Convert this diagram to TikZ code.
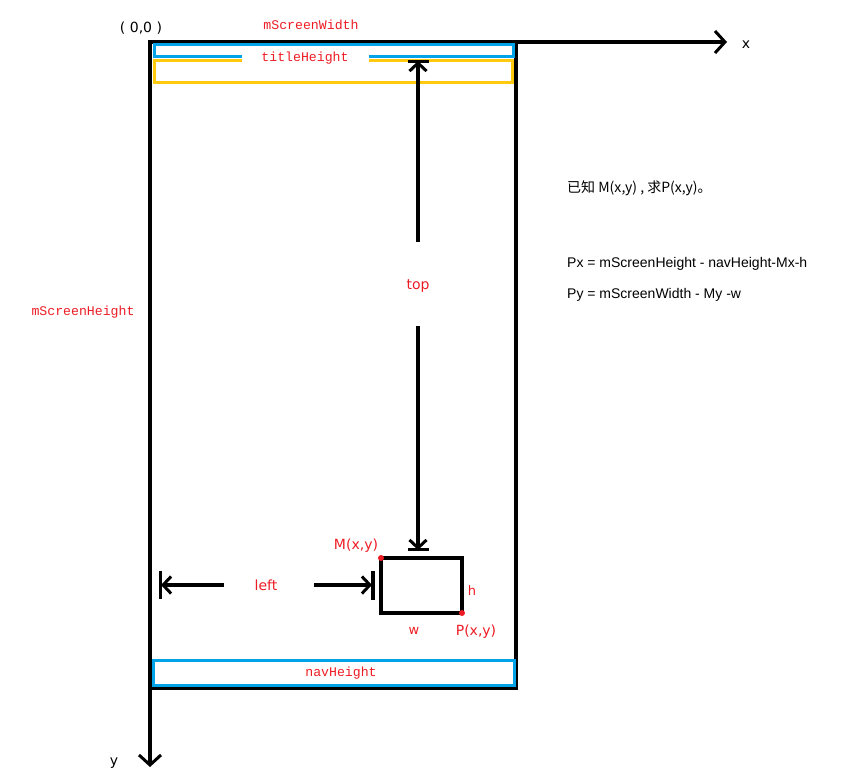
\documentclass[tikz,border=0pt]{standalone}
\usepackage{fontspec}
\setmainfont{Liberation Sans}
\setmonofont{Liberation Mono}
\newfontfamily\cjk{Noto Sans CJK SC}
\newfontfamily\dvs{DejaVu Sans}
\usetikzlibrary{arrows.meta}
\definecolor{pblue}{RGB}{0,162,232}
\definecolor{pyellow}{RGB}{255,201,14}
\definecolor{pred}{RGB}{237,28,36}
\tikzset{
  blk/.style={line width=3.2pt, black},
  axis/.style={blk, -{Straight Barb[length=10pt,width=22pt,line width=3pt]}},
  dim/.style={blk, -{Straight Barb[length=8pt,width=17pt,line width=3pt]}},
  mono/.style={font=\ttfamily\fontsize{13.2}{15}\selectfont, text=pred, inner sep=1pt},
  lbl/.style={font=\dvs\fontsize{14}{16}\selectfont, text=pred, inner sep=1pt},
  plain/.style={font=\fontsize{14}{16}\selectfont, text=black, inner sep=1pt, anchor=west},
  dot/.style={circle, fill=pred, inner sep=0pt, minimum size=6pt}
}
\begin{document}
\begin{tikzpicture}[x=1pt,y=-1pt]
\useasboundingbox (0,0) rectangle (842,782);
% main frame
\coordinate (O) at (150,42);
\coordinate (TR) at (516,42);
\coordinate (BR) at (516,688);
\coordinate (BL) at (150,688);
\coordinate (xend) at (727,42);
\coordinate (yend) at (150,767);
\draw[blk] (O) -- (TR) -- (BR) -- (BL) -- cycle;
\draw[axis] (O) -- (xend);
\draw[axis] (O) -- (yend);
% title bar (blue) with gap
\draw[pblue, line width=3pt] (242,56) -- (154,56) -- (154,44.5) -- (513,44.5) -- (513,56) -- (369,56);
% yellow box with gap
\draw[pyellow, line width=3pt] (242,60.5) -- (154.5,60.5) -- (154.5,82.5) -- (512.5,82.5) -- (512.5,60.5) -- (369,60.5);
\node[mono] (title) at (305,58) {titleHeight};
\node[mono] (sw) at (311,25) {mScreenWidth};
\node[mono] (sh) at (83,312) {mScreenHeight};
\node[font=\dvs\fontsize{14}{16}\selectfont, inner sep=1pt] (org) at (141,28) {( 0,0 )};
\node[font=\dvs\fontsize{14}{16}\selectfont, inner sep=1pt] (xl) at (746,45) {x};
\node[font=\dvs\fontsize{14}{16}\selectfont, inner sep=1pt] (yl) at (114,763) {y};
% nav bar
\draw[pblue, line width=3pt] (153,660.5) rectangle (514.5,685.5);
\node[mono] (nav) at (341,673) {navHeight};
% target box
\coordinate (M) at (381,558);
\coordinate (P) at (462,613);
\draw[blk] (M) rectangle (P);
\node[dot] (Md) at (M) {};
\node[dot] (Pd) at (P) {};
\node[lbl] (Ml) at (356,546) {M(x,y)};
\node[lbl] (Pl) at (476,632) {P(x,y)};
\node[lbl, font=\dvs\fontsize{13}{15}\selectfont] (hl) at (472,591) {h};
\node[lbl, font=\dvs\fontsize{13}{15}\selectfont] (wl) at (414,631) {w};
% top dimension
\coordinate (topA) at (418,242);
\coordinate (topB) at (418,326);
\coordinate (topS) at (418,61);
\coordinate (topE) at (418,550);
\draw[blk] (408,61.5) -- (429,61.5);
\draw[blk] (408,549.5) -- (429,549.5);
\draw[dim] (topA) -- (topS);
\draw[dim] (topB) -- (topE);
\node[lbl] (top) at (418,286) {top};
% left dimension
\coordinate (lA) at (224,585);
\coordinate (lB) at (314,585);
\coordinate (lS) at (161,585);
\coordinate (lE) at (372,585);
\draw[blk] (160.5,571) -- (160.5,599);
\draw[blk] (373,571) -- (373,600);
\draw[dim] (lA) -- (lS);
\draw[dim] (lB) -- (lE);
\node[lbl] (left) at (266,585) {left};
% equations
\node[plain, font=\cjk\fontsize{14}{16}\selectfont] (given) at (566,188) {已知 M(x,y) , 求P(x,y)。};
\node[plain] (px) at (566,264) {Px = mScreenHeight - navHeight-Mx-h};
\node[plain] (py) at (566,295) {Py = mScreenWidth - My -w};
\end{tikzpicture}
\end{document}
